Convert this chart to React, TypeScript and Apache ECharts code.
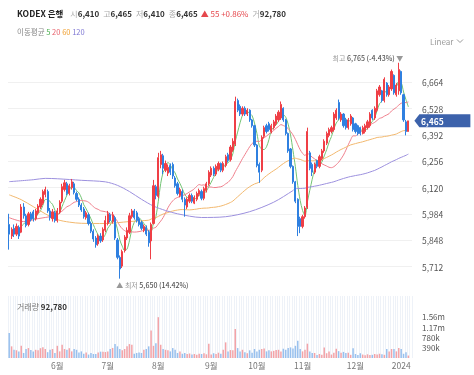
import React, { useEffect, useRef } from 'react';
import * as echarts from 'echarts';

// ---- trading calendar (KRX) ----
const startDate = '2023-05-02';
const endDate = '2024-01-05';
const holidays = [
  '2023-05-05', '2023-05-29', '2023-06-06', '2023-08-15', '2023-09-28', '2023-09-29',
  '2023-10-02', '2023-10-03', '2023-10-09', '2023-12-25', '2023-12-29',
];

// ---- daily prices (KRW) ----
const opens = [
  5930, 5870, 5910, 5880, 5915, 5890, 6020, 5975, 5930, 5985,
  5995, 5960, 5990, 6020, 6040, 6085, 6100, 6000, 5960, 5990,
  5950, 5995, 6050, 6110, 6140, 6090, 6120, 6140, 6090, 6060,
  6030, 6010, 5965, 5980, 5935, 5895, 5860, 5830, 5870, 5850,
  5900, 5935, 5980, 5945, 5965, 5850, 5760, 5715, 5795, 5860,
  5890, 5970, 6000, 5990, 5960, 5940, 5900, 5915, 5890, 5845,
  5935, 6125, 6075, 6240, 6285, 6210, 6195, 6235, 6240, 6170,
  6140, 6080, 6100, 6060, 6020, 6050, 6080, 6040, 6060, 6085,
  6100, 6065, 6105, 6140, 6185, 6220, 6190, 6215, 6245, 6210,
  6235, 6290, 6265, 6315, 6345, 6570, 6540, 6500, 6530, 6500,
  6520, 6470, 6440, 6340, 6240, 6210, 6385, 6440, 6450, 6410,
  6430, 6450, 6470, 6480, 6530, 6470, 6400, 6320, 6230, 6150,
  6060, 5960, 5920, 5970, 6020, 6300, 6240, 6200, 6260, 6230,
  6270, 6310, 6350, 6390, 6410, 6420, 6480, 6560, 6470, 6500,
  6470, 6430, 6450, 6480, 6450, 6440, 6430, 6400, 6410, 6430,
  6440, 6520, 6480, 6520, 6600, 6620, 6570, 6660, 6600, 6630,
  6700, 6600, 6620, 6720, 6600, 6460, 6410,
];
const closes = [
  5880, 5905, 5880, 5920, 5870, 6020, 5975, 5925, 5985, 5955,
  5960, 6000, 6025, 6060, 6100, 6110, 6000, 5965, 5995, 5950,
  6000, 6045, 6125, 6145, 6090, 6130, 6150, 6095, 6060, 6030,
  6005, 5970, 5990, 5935, 5895, 5855, 5825, 5870, 5845, 5905,
  5950, 5985, 5950, 5980, 5860, 5760, 5700, 5790, 5865, 5900,
  5975, 6000, 5965, 5950, 5930, 5910, 5920, 5880, 5835, 5930,
  6130, 6080, 6275, 6290, 6220, 6245, 6225, 6200, 6180, 6130,
  6090, 6110, 6060, 6030, 6060, 6080, 6050, 6070, 6090, 6105,
  6065, 6115, 6140, 6200, 6220, 6190, 6230, 6245, 6210, 6245,
  6280, 6260, 6330, 6360, 6565, 6520, 6500, 6530, 6500, 6520,
  6470, 6440, 6340, 6235, 6200, 6380, 6430, 6410, 6420, 6440,
  6460, 6490, 6510, 6550, 6470, 6400, 6310, 6230, 6150, 6050,
  5920, 5920, 5970, 6015, 6410, 6220, 6200, 6240, 6230, 6280,
  6310, 6360, 6400, 6420, 6430, 6500, 6520, 6480, 6500, 6440,
  6430, 6470, 6490, 6420, 6410, 6400, 6400, 6430, 6440, 6460,
  6500, 6480, 6530, 6620, 6640, 6570, 6680, 6600, 6640, 6720,
  6610, 6650, 6730, 6610, 6470, 6410, 6465,
];
const lows = [
  5800, 5855, 5865, 5870, 5855, 5885, 5960, 5915, 5920, 5945,
  5945, 5950, 5980, 6010, 6030, 6070, 5990, 5950, 5945, 5940,
  5940, 5985, 6040, 6100, 6080, 6080, 6110, 6085, 6050, 6020,
  5995, 5960, 5955, 5925, 5885, 5840, 5810, 5820, 5835, 5840,
  5890, 5925, 5940, 5935, 5850, 5750, 5650, 5705, 5785, 5850,
  5880, 5960, 5955, 5940, 5920, 5900, 5890, 5870, 5815, 5750,
  5930, 6060, 6065, 6220, 6190, 6200, 6180, 6185, 6165, 6120,
  6080, 6070, 6045, 5970, 6010, 6040, 6040, 6035, 6050, 6075,
  6055, 6055, 6095, 6130, 6175, 6180, 6180, 6205, 6200, 6200,
  6225, 6250, 6255, 6305, 6335, 6510, 6490, 6490, 6490, 6490,
  6460, 6430, 6330, 6225, 6145, 6200, 6375, 6400, 6410, 6400,
  6420, 6440, 6460, 6470, 6460, 6390, 6300, 6220, 6140, 6040,
  5870, 5885, 5910, 5960, 6010, 6210, 6180, 6190, 6220, 6220,
  6260, 6300, 6340, 6380, 6400, 6410, 6470, 6470, 6460, 6430,
  6420, 6420, 6440, 6410, 6400, 6390, 6390, 6395, 6400, 6420,
  6430, 6470, 6470, 6510, 6590, 6560, 6560, 6590, 6590, 6620,
  6600, 6590, 6600, 6600, 6460, 6390, 6410,
];
const highs = [
  5985, 5915, 5930, 5935, 5925, 6035, 6040, 5985, 5995, 5995,
  6005, 6010, 6035, 6070, 6110, 6125, 6110, 6015, 6010, 6000,
  6015, 6055, 6140, 6160, 6150, 6140, 6165, 6150, 6100, 6070,
  6040, 6020, 6000, 5990, 5945, 5905, 5870, 5880, 5885, 5915,
  5975, 6000, 5990, 5995, 5975, 5860, 5770, 5800, 5875, 5915,
  5990, 6010, 6010, 6000, 5970, 5950, 5930, 5925, 5900, 5940,
  6160, 6135, 6300, 6310, 6295, 6260, 6240, 6245, 6250, 6180,
  6150, 6120, 6110, 6070, 6070, 6090, 6090, 6080, 6100, 6115,
  6110, 6125, 6150, 6210, 6230, 6230, 6240, 6255, 6250, 6255,
  6290, 6300, 6340, 6375, 6590, 6580, 6550, 6540, 6540, 6530,
  6525, 6475, 6445, 6345, 6250, 6390, 6440, 6450, 6460, 6450,
  6470, 6500, 6520, 6565, 6535, 6475, 6405, 6325, 6235, 6155,
  6065, 5970, 5980, 6025, 6430, 6310, 6250, 6250, 6265, 6290,
  6320, 6370, 6410, 6430, 6440, 6510, 6530, 6575, 6510, 6505,
  6480, 6480, 6500, 6485, 6455, 6445, 6435, 6440, 6450, 6470,
  6510, 6525, 6540, 6630, 6650, 6625, 6690, 6665, 6650, 6730,
  6705, 6660, 6765, 6725, 6605, 6470, 6465,
];
// ---- daily volume (thousand shares) ----
const volumesK = [
  940, 440, 310, 290, 250, 460, 190, 340, 375, 300,
  250, 310, 290, 370, 410, 340, 220, 310, 340, 190,
  460, 250, 500, 340, 310, 370, 250, 340, 310, 210,
  250, 160, 210, 130, 190, 150, 150, 210, 240, 240,
  225, 250, 340, 380, 525, 440, 340, 290, 340, 440,
  525, 500, 160, 190, 210, 190, 310, 340, 440, 1040,
  460, 560, 1540, 500, 340, 310, 290, 250, 375, 310,
  190, 250, 160, 190, 150, 170, 130, 150, 120, 160,
  150, 180, 140, 540, 130, 180, 150, 200, 160, 310,
  590, 250, 300, 290, 1090, 375, 250, 310, 220, 180,
  290, 200, 340, 250, 310, 340, 360, 250, 290, 250,
  270, 300, 310, 250, 350, 310, 375, 400, 360, 460,
  650, 340, 250, 310, 540, 250, 190, 190, 110, 150,
  120, 400, 180, 250, 130, 200, 350, 260, 200, 230,
  190, 200, 120, 370, 150, 110, 180, 130, 100, 140,
  110, 120, 150, 130, 160, 140, 120, 340, 250, 340,
  340, 250, 375, 340, 160, 220, 92.78,
];
// moving-average readings where the window reaches before the first shown day: [dayIndex, value]
const ma20Early = [[0, 5965], [6, 5945], [12, 5960], [18, 5972]];
const ma60Early = [[0, 6083], [5, 6058], [10, 6022], [15, 5985], [20, 5955], [25, 5942], [30, 5936], [40, 5935], [50, 5945], [58, 5952]];
const ma120Early = [[0, 6151], [10, 6161], [15, 6168], [20, 6166], [30, 6158], [40, 6150], [45, 6132], [50, 6100], [55, 6060], [60, 6025], [65, 6002], [70, 5985], [80, 5966], [90, 5970], [100, 5996], [110, 6045], [118, 6105]];

const priceTicks = { min: 5576, max: 6800, step: 136 };
const volumeTicks = { max: 2340, step: 390 };

const UP = '#ef3f46';
const DOWN = '#2f80e0';
const UP_VOL = '#f4a3a7';
const DOWN_VOL = '#98c0ee';
const MA_COLORS = { 5: '#72c373', 20: '#ef7f8c', 60: '#f2b86e', 120: '#9c90de' };
const FONT = "'Noto Sans CJK KR', 'Noto Sans', sans-serif";

function tradingDays(): string[] {
  const out: string[] = [];
  const d = new Date(startDate + 'T00:00:00Z');
  const end = new Date(endDate + 'T00:00:00Z');
  while (d <= end) {
    const wd = d.getUTCDay();
    const s = d.toISOString().slice(0, 10);
    if (wd !== 0 && wd !== 6 && holidays.indexOf(s) < 0) out.push(s);
    d.setUTCDate(d.getUTCDate() + 1);
  }
  return out;
}

function movingAverage(n: number, early: number[][]): (number | null)[] {
  const out: (number | null)[] = closes.map(() => null);
  early.forEach(([i, v]) => { out[i] = v; });
  for (let i = n - 1; i < closes.length; i++) {
    let s = 0;
    for (let k = i - n + 1; k <= i; k++) s += closes[k];
    out[i] = Math.round((s / n) * 10) / 10;
  }
  return out;
}

const fmt = (v: number) => Math.round(v).toLocaleString('en-US');

export default function App() {
  const ref = useRef<HTMLDivElement>(null);
  useEffect(() => {
    document.body.style.margin = '0';
    const dates = tradingDays();
    const n = closes.length;
    const last = n - 1;
    const candleData = dates.map((_, i) => [opens[i], closes[i], lows[i], highs[i]]);
    const isMonthStart = (i: number) => i > 0 && dates[i].slice(0, 7) !== dates[i - 1].slice(0, 7);
    const monthLabel = (v: string) => {
      const m = parseInt(v.slice(5, 7), 10);
      return m === 1 ? v.slice(0, 4) : `${m}월`;
    };
    let maxI = 0, minI = 0;
    highs.forEach((h, i) => { if (h > highs[maxI]) maxI = i; });
    lows.forEach((l, i) => { if (l < lows[minI]) minI = i; });
    const lastClose = closes[last];
    const prevClose = closes[last - 1];
    const chg = lastClose - prevClose;
    const chgPct = (chg / prevClose) * 100;
    const maxPct = ((lastClose - highs[maxI]) / highs[maxI]) * 100;
    const minPct = ((lastClose - lows[minI]) / lows[minI]) * 100;
    const lastVol = Math.round(volumesK[last] * 1000);

    const maSeries = [
      [5, [] as number[][]],
      [20, ma20Early],
      [60, ma60Early],
      [120, ma120Early],
    ].map(([p, early]) => ({
      type: 'line',
      name: `MA${p}`,
      xAxisIndex: 0,
      yAxisIndex: 0,
      data: movingAverage(p as number, early as number[][]),
      showSymbol: false,
      connectNulls: true,
      smooth: 0.3,
      lineStyle: { width: 1, color: (MA_COLORS as any)[p as number] },
      silent: true,
      z: 3,
    }));

    const annRich = {
      l: { fontSize: 7, color: '#999', fontFamily: FONT },
      v: { fontSize: 7, color: '#555', fontFamily: FONT, fontWeight: 500 },
    };

    const chart = echarts.init(ref.current!, undefined, { renderer: 'svg' });
    chart.setOption({
      animation: false,
      textStyle: { fontFamily: FONT },
      grid: [
        { left: 8, right: 62, top: 56, height: 237 },
        { left: 8, right: 62, top: 296, height: 62 },
      ],
      xAxis: [
        {
          type: 'category', data: dates, gridIndex: 0, boundaryGap: true,
          axisLine: { show: false }, axisTick: { show: false }, axisLabel: { show: false }, splitLine: { show: false },
        },
        {
          type: 'category', data: dates, gridIndex: 1, boundaryGap: true,
          axisLine: { show: false }, axisTick: { show: false },
          axisLabel: {
            interval: (i: number) => isMonthStart(i),
            formatter: (v: string) => monthLabel(v),
            fontSize: 8.5, color: '#777', margin: 3, fontFamily: FONT,
          },
          splitLine: { show: true, interval: 0, lineStyle: { color: '#eef2f8', width: 1 } },
        },
      ],
      yAxis: [
        {
          type: 'value', gridIndex: 0, position: 'right',
          min: priceTicks.min, max: priceTicks.max, interval: priceTicks.step,
          axisLine: { show: false }, axisTick: { show: false },
          axisLabel: { fontSize: 8.5, color: '#555', margin: 10, showMinLabel: false, showMaxLabel: false, formatter: fmt, fontFamily: FONT },
          splitLine: { show: true, showMinLine: false, showMaxLine: false, lineStyle: { color: '#f0f0f0', width: 1 } },
        },
        {
          type: 'value', gridIndex: 1, position: 'right',
          min: 0, max: volumeTicks.max, interval: volumeTicks.step,
          axisLine: { show: false }, axisTick: { show: false },
          axisLabel: {
            fontSize: 8, lineHeight: 9, color: '#555', margin: 10, fontFamily: FONT,
            formatter: (v: number) => (v === 0 || v > 1600 ? '' : v >= 1000 ? `${(v / 1000).toFixed(2)}m` : `${v}k`),
          },
          splitLine: { show: false },
        },
      ],
      series: [
        {
          type: 'candlestick',
          xAxisIndex: 0, yAxisIndex: 0,
          data: candleData,
          barWidth: '70%',
          itemStyle: { color: UP, color0: DOWN, borderColor: UP, borderColor0: DOWN, borderWidth: 1 },
          z: 4,
          markPoint: {
            silent: true,
            data: [
              {
                coord: [dates[maxI], highs[maxI]],
                symbol: 'circle', symbolSize: 1, itemStyle: { color: 'rgba(0,0,0,0)' },
                label: {
                  show: true, position: 'left', distance: 0, offset: [5, -5],
                  formatter: `{l|최고 }{v|${fmt(highs[maxI])} (${maxPct.toFixed(2)}%)}{l| ▼}`,
                  rich: annRich,
                },
              },
              {
                coord: [dates[minI], lows[minI]],
                symbol: 'circle', symbolSize: 1, itemStyle: { color: 'rgba(0,0,0,0)' },
                label: {
                  show: true, position: 'right', distance: 0, offset: [-4, 6],
                  formatter: `{l|▲ 최저 }{v|${fmt(lows[minI])} (${minPct.toFixed(2)}%)}`,
                  rich: annRich,
                },
              },
              {
                coord: [dates[last], lastClose],
                symbol: 'path://M0,6L5,0H56V12H5Z', symbolKeepAspect: false,
                symbolSize: [56, 13], symbolOffset: [34, 0],
                itemStyle: { color: '#3c62ab' },
                label: {
                  show: true, position: 'inside', offset: [-10, 0],
                  formatter: fmt(lastClose), color: '#fff', fontSize: 8.5, fontWeight: 'bold', fontFamily: FONT,
                },
              },
            ],
          },
        },
        ...maSeries,
        {
          type: 'bar',
          name: '거래량',
          xAxisIndex: 1, yAxisIndex: 1,
          data: volumesK,
          barWidth: '62%',
          itemStyle: {
            color: (p: any) => (closes[p.dataIndex] >= opens[p.dataIndex] ? UP_VOL : DOWN_VOL),
          },
        },
      ],
      graphic: [
        {
          type: 'text', x: 17, y: 13, z: 100,
          style: {
            text: `{n|KODEX 은행}{l1|시}{v|${fmt(opens[last])}}{l|고}{v|${fmt(highs[last])}}{l|저}{v|${fmt(lows[last])}}{l|종}{v|${fmt(lastClose)}}{u|▲ ${chg} +${chgPct.toFixed(2)}%}{l|거}{v|${fmt(lastVol)}}`,
            verticalAlign: 'middle', fontSize: 8, fontFamily: FONT,
            rich: {
              n: { fontSize: 8.5, fontWeight: 'bold', fill: '#222', fontFamily: FONT },
              l1: { fontSize: 8, fill: '#aaa', fontFamily: FONT, padding: [0, 0, 0, 7] },
              l: { fontSize: 8, fill: '#aaa', fontFamily: FONT, padding: [0, 0, 0, 4] },
              v: { fontSize: 8, fontWeight: 'bold', fill: '#333', fontFamily: FONT },
              u: { fontSize: 8, fill: '#e5484d', fontFamily: FONT, padding: [0, 0, 0, 3] },
            },
          },
        },
        {
          type: 'text', x: 17, y: 31, z: 100,
          style: {
            text: '{l|이동평균} {g|5} {r|20} {o|60} {p|120}',
            verticalAlign: 'middle', fontSize: 7.5, fontFamily: FONT,
            rich: {
              l: { fontSize: 7.5, fill: '#888', fontFamily: FONT },
              g: { fontSize: 7.5, fill: '#4caf50', fontFamily: FONT },
              r: { fontSize: 7.5, fill: '#e8616c', fontFamily: FONT },
              o: { fontSize: 7.5, fill: '#f0a030', fontFamily: FONT },
              p: { fontSize: 7.5, fill: '#7d76d3', fontFamily: FONT },
            },
          },
        },
        {
          type: 'text', x: 430, y: 41, z: 100,
          style: { text: 'Linear', verticalAlign: 'middle', fontSize: 8, fill: '#999', fontFamily: FONT },
        },
        {
          type: 'polyline', z: 100,
          shape: { points: [[457, 39.5], [460, 42.5], [463, 39.5]] },
          style: { stroke: '#999', lineWidth: 1, fill: 'none' },
        },
        {
          type: 'text', x: 17, y: 306, z: 100,
          style: {
            text: `{l|거래량} {v|${fmt(lastVol)}}`,
            verticalAlign: 'middle', fontSize: 8, fontFamily: FONT,
            rich: {
              l: { fontSize: 8, fill: '#777', fontFamily: FONT },
              v: { fontSize: 8, fontWeight: 'bold', fill: '#333', fontFamily: FONT },
            },
          },
        },
      ],
    });
    return () => chart.dispose();
  }, []);
  return <div ref={ref} style={{ position: 'fixed', left: 0, top: 0, width: 474, height: 375 }} />;
}
